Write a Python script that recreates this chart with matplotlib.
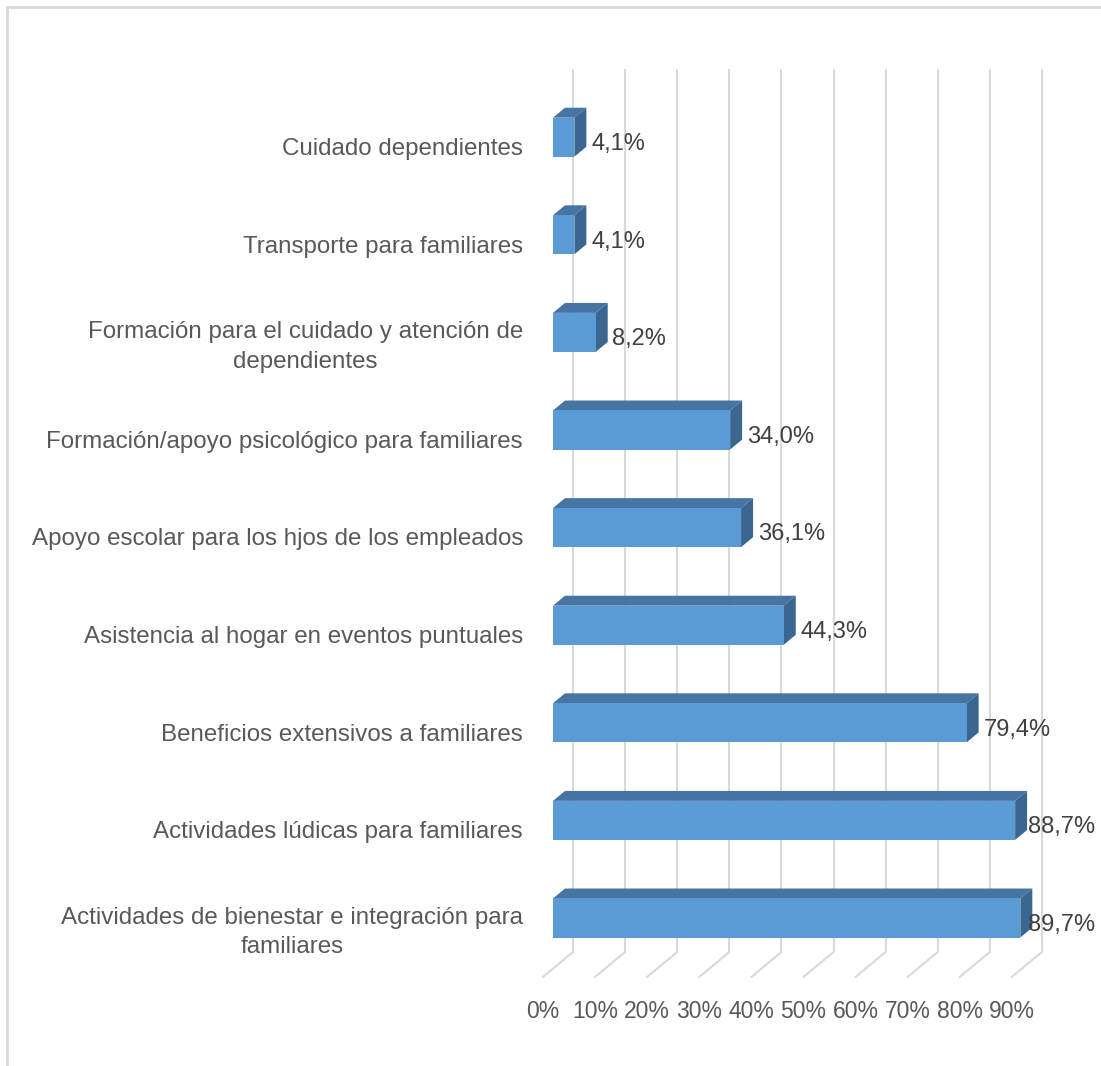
import matplotlib
matplotlib.use('Agg')
import matplotlib.pyplot as plt
from matplotlib.patches import Polygon
from matplotlib.lines import Line2D

# Categories listed bottom to top
categories = [
    'Actividades de bienestar e integración para\nfamiliares',
    'Actividades lúdicas para familiares',
    'Beneficios extensivos a familiares',
    'Asistencia al hogar en eventos puntuales',
    'Apoyo escolar para los hjos de los empleados',
    'Formación/apoyo psicológico para familiares',
    'Formación para el cuidado y atención de\ndependientes',
    'Transporte para familiares',
    'Cuidado dependientes',
]
values = [89.7, 88.7, 79.4, 44.3, 36.1, 34.0, 8.2, 4.1, 4.1]
ticks = [0, 10, 20, 30, 40, 50, 60, 70, 80, 90]

FRONT = '#5B9BD5'
TOP = '#4674A3'
SIDE = '#3A6690'
GRID = '#D9D9D9'
TEXT = '#404040'
LABEL = '#595959'

plt.rcParams['font.family'] = ['Liberation Sans', 'DejaVu Sans']

fig = plt.figure(figsize=(11.01, 10.66), dpi=100)
ax = fig.add_axes([0, 0, 1, 1])
# x in percent (bar front plane), y in category rows
ax.set_xlim(-553 / 5.21, (1101 - 553) / 5.21)
ax.set_ylim(-148 / 97.6, 918 / 97.6)
ax.axis('off')

# pseudo-3D geometry
bar_dx, bar_dy = 2.30, 0.102
wall_dx = 3.84
floor_dx = -1.92
half_h = 0.20
floor_back = -0.348
grid_top = 8.70

for t in ticks:
    xb = t + wall_dx
    ax.plot([xb, xb], [floor_back, grid_top], color=GRID, lw=1.5, zorder=1,
            solid_capstyle='butt')
    ax.plot([xb, t + floor_dx], [floor_back, floor_back - 0.256],
            color=GRID, lw=1.5, zorder=1)
    ax.text(t + floor_dx, -0.963, f'{t}%', ha='center', va='center',
            fontsize=16.5, color=LABEL)

for i, (cat, v) in enumerate(zip(categories, values)):
    y0, y1 = i - half_h, i + half_h
    top = [(0, y1), (v, y1), (v + bar_dx, y1 + bar_dy), (bar_dx, y1 + bar_dy)]
    side = [(v, y0), (v + bar_dx, y0 + bar_dy), (v + bar_dx, y1 + bar_dy), (v, y1)]
    ax.add_patch(Polygon(top, closed=True, fc=TOP, ec='none', zorder=3))
    ax.add_patch(Polygon(side, closed=True, fc=SIDE, ec='none', zorder=3))
    ax.barh(i, v, height=2 * half_h, left=0, color=FRONT, zorder=4)

    lx = min(v + 3.2, 91.2)
    ax.text(lx, i - 0.07, f'{v:.1f}%'.replace('.', ','), ha='left',
            va='center', fontsize=17, color=TEXT, zorder=5)
    dy = -0.15 if '\n' in cat else -0.12
    ax.text(-5.76, i + dy, cat, ha='right', va='center', fontsize=17.4,
            color=LABEL, multialignment='center', linespacing=1.45)

# chart area border (top and left edges)
fx, fy = 7 / 1101, 1 - 7 / 1066
fig.add_artist(Line2D([fx, 1], [fy, fy], transform=fig.transFigure,
                      color=GRID, lw=2))
fig.add_artist(Line2D([fx, fx], [0, fy], transform=fig.transFigure,
                      color=GRID, lw=2))

fig.savefig('out.png', dpi=100, facecolor='white')
